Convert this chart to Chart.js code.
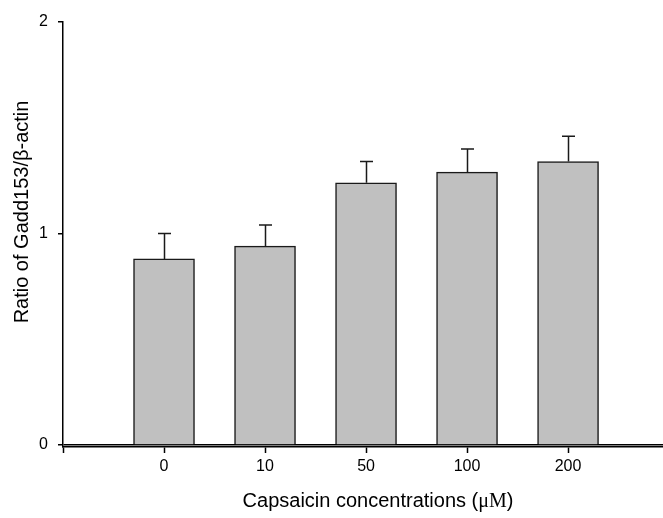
<!DOCTYPE html>
<html>
<head>
<meta charset="utf-8">
<script src="https://cdn.jsdelivr.net/npm/chart.js@4/dist/chart.umd.min.js"></script>
<style>
  html, body { margin: 0; padding: 0; background: #fff; }
  #wrap { width: 663px; height: 518px; position: relative; }
</style>
</head>
<body>
<div id="wrap"><canvas id="chart"></canvas></div>
<script>
// Gadd153 / beta-actin ratio per capsaicin dose
const concentrations = ['0', '10', '50', '100', '200'];
const ratios = [0.88, 0.94, 1.24, 1.29, 1.34];
const errors = [0.12, 0.10, 0.10, 0.11, 0.12];
const yTicks = [0, 1, 2];
const xTicks = [-1, 0, 1, 2, 3, 4];

const SANS = '"Liberation Sans", Arial, sans-serif';
const SERIF = '"Liberation Serif", "Times New Roman", serif';

// upward SEM whiskers
const errorBars = {
  id: 'errorBars',
  afterDatasetsDraw(chart) {
    const { ctx, scales: { x, y } } = chart;
    ctx.save();
    ctx.strokeStyle = '#1a1a1a';
    ctx.lineWidth = 1.5;
    ratios.forEach((v, i) => {
      const px = Math.round(x.getPixelForValue(i)) + 0.5;
      const top = y.getPixelForValue(v + errors[i]);
      const base = y.getPixelForValue(v);
      ctx.beginPath();
      ctx.moveTo(px, base);
      ctx.lineTo(px, top);
      ctx.moveTo(px - 6.5, top);
      ctx.lineTo(px + 6.5, top);
      ctx.stroke();
    });
    ctx.restore();
  }
};

// axis titles (x title mixes sans text with a serif unit)
const axisTitles = {
  id: 'axisTitles',
  afterDraw(chart) {
    const { ctx } = chart;
    ctx.save();
    ctx.fillStyle = '#000';
    ctx.textBaseline = 'alphabetic';

    const parts = [
      ['Capsaicin concentrations (', '20px ' + SANS],
      ['\u03bcM', '20px ' + SERIF],
      [')', '20px ' + SANS]
    ];
    let total = 0;
    parts.forEach(p => { ctx.font = p[1]; total += ctx.measureText(p[0]).width; });
    let cx = 378 - total / 2;
    parts.forEach(p => {
      ctx.font = p[1];
      ctx.textAlign = 'left';
      ctx.fillText(p[0], cx, 507);
      cx += ctx.measureText(p[0]).width;
    });

    ctx.translate(28, 212);
    ctx.rotate(-Math.PI / 2);
    ctx.font = '20px ' + SANS;
    ctx.textAlign = 'center';
    ctx.fillText('Ratio of Gadd153/\u03b2-actin', 0, 0);
    ctx.restore();
  }
};

new Chart(document.getElementById('chart'), {
  type: 'bar',
  data: {
    datasets: [{
      data: ratios.map((v, i) => ({ x: i, y: v })),
      backgroundColor: '#c0c0c0',
      borderColor: '#1a1a1a',
      borderWidth: 1.5,
      barThickness: 61
    }]
  },
  options: {
    responsive: true,
    maintainAspectRatio: false,
    animation: false,
    layout: { padding: { top: 22, left: 0, right: 0, bottom: 0 } },
    plugins: {
      legend: { display: false },
      tooltip: { enabled: false }
    },
    scales: {
      x: {
        type: 'linear',
        offset: false,
        min: -1,
        max: 4.94,
        afterBuildTicks: (scale) => { scale.ticks = xTicks.map(v => ({ value: v })); },
        afterFit: (scale) => { scale.height = 71; },
        border: { display: true, color: '#000', width: 1.5 },
        grid: { offset: false, drawOnChartArea: false, tickLength: 6, tickColor: '#000', tickWidth: 1.5 },
        ticks: {
          color: '#000',
          padding: 4,
          maxRotation: 0,
          font: { family: SANS, size: 16 },
          callback: (v) => concentrations[v] ?? ''
        }
      },
      y: {
        min: -0.009456,
        max: 2,
        afterBuildTicks: (scale) => { scale.ticks = yTicks.map(v => ({ value: v })); },
        afterFit: (scale) => { scale.width = 63; },
        border: { display: true, color: '#000', width: 1.5 },
        grid: {
          drawOnChartArea: true,
          tickLength: 5,
          tickColor: '#000',
          color: (c) => (c.tick && c.tick.value === 0 ? '#000' : 'rgba(0,0,0,0)'),
          lineWidth: 1.5
        },
        ticks: {
          color: '#000',
          padding: 10,
          font: { family: SANS, size: 16 }
        }
      }
    }
  },
  plugins: [errorBars, axisTitles]
});
</script>
</body>
</html>
